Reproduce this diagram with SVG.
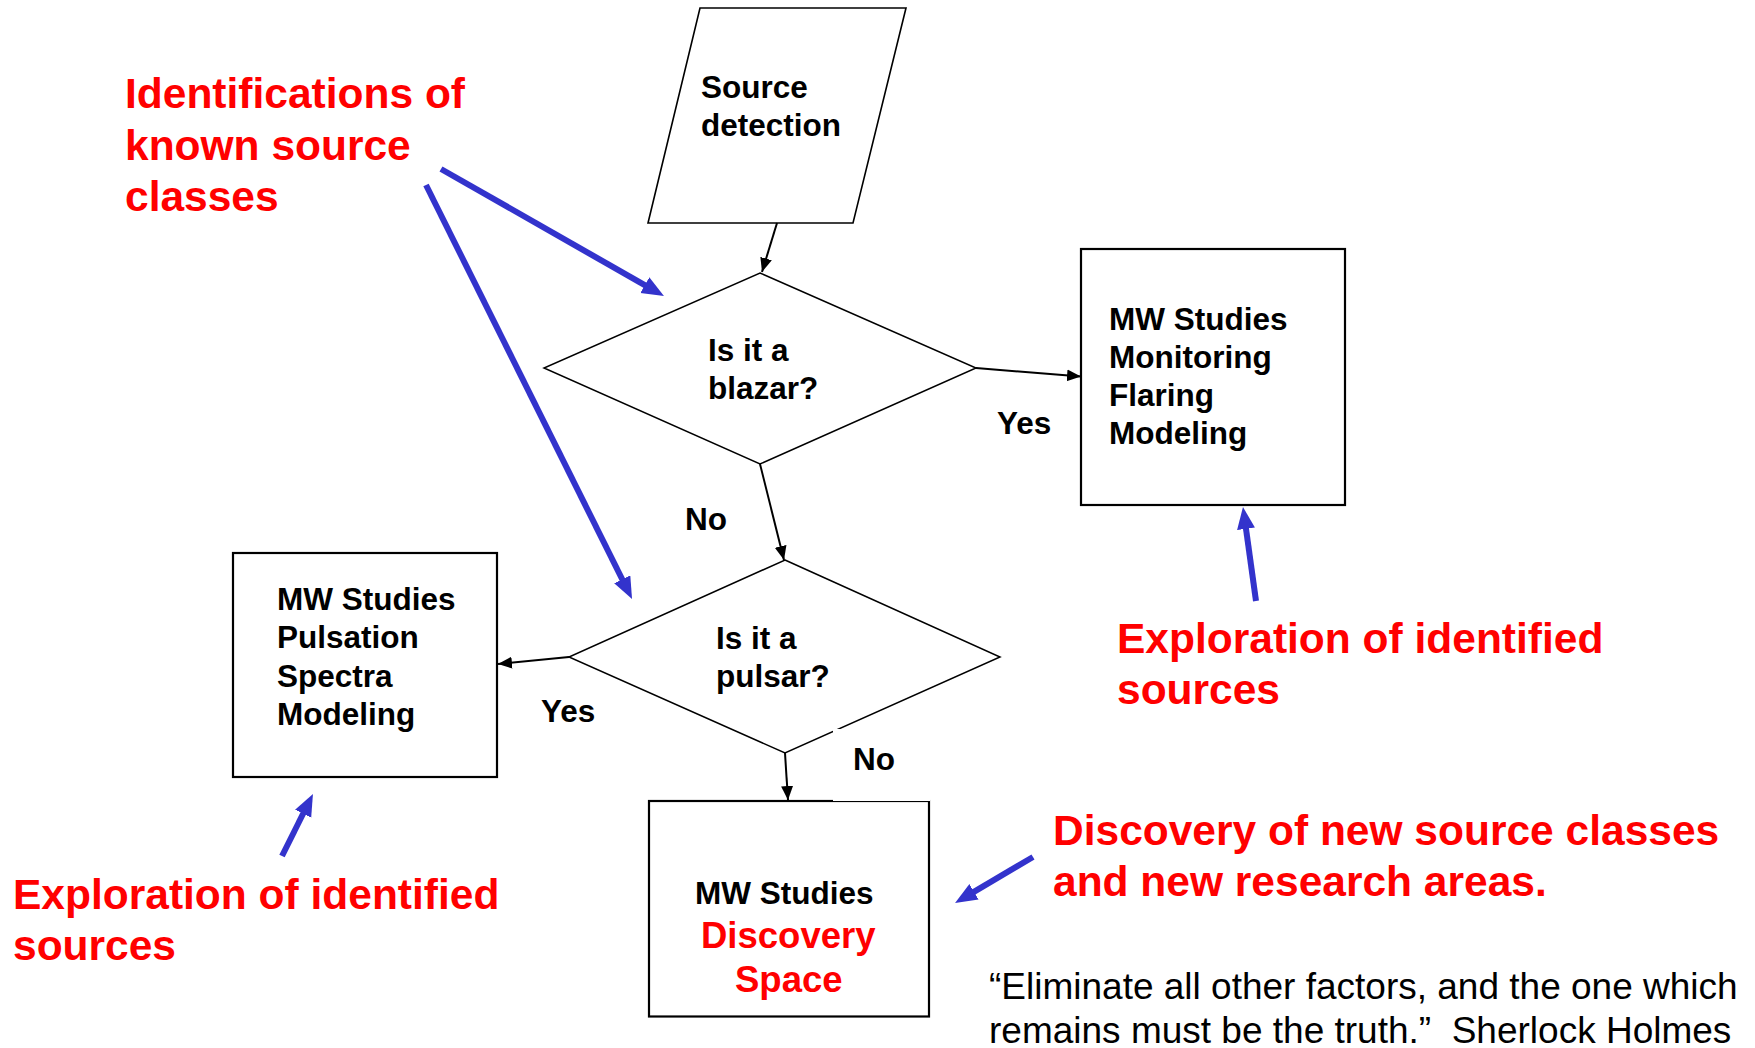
<svg xmlns="http://www.w3.org/2000/svg" width="1755" height="1048" viewBox="0 0 1755 1048">
<defs>
<style>
.shape{fill:#fff;stroke:#000;}
.box{stroke-width:2.2;}
.dia{stroke-width:1.5;}
.t{font-family:"Liberation Sans",Arial,sans-serif;font-weight:bold;fill:#000;}
.n{font-size:31.5px;}
.redt{fill:#ff0000;}
.red{font-family:"Liberation Sans",Arial,sans-serif;font-weight:bold;fill:#ff0000;font-size:42.5px;}
.quote{font-family:"Liberation Sans",Arial,sans-serif;fill:#000;font-size:37px;}
.conn{stroke:#000;stroke-width:2;fill:none;marker-end:url(#ah);}
.blue{stroke:#3333cc;stroke-width:6;fill:none;marker-end:url(#bh);}
</style>
<marker id="ah" markerUnits="userSpaceOnUse" markerWidth="16" markerHeight="14" refX="14" refY="6" orient="auto">
<path d="M0,0 L14,6 L0,12 z" fill="#000"/>
</marker>
<marker id="bh" markerUnits="userSpaceOnUse" markerWidth="24" markerHeight="20" refX="8" refY="9" orient="auto">
<path d="M0,0 L22,9 L0,18 z" fill="#3333cc"/>
</marker>
</defs>
<rect width="1755" height="1048" fill="#fff"/>

<g id="source-detection">
<polygon class="shape" stroke-width="1.6" points="700,8 906,8 853,223 648,223"/>
<text class="t n" x="701" y="98">Source</text>
<text class="t n" x="701" y="136">detection</text>
</g>

<g id="blazar-decision">
<polygon class="shape dia" points="760,273 976,368 760,464 544,368"/>
<text class="t n" x="708" y="361">Is it a</text>
<text class="t n" x="708" y="399">blazar?</text>
</g>

<g id="blazar-studies">
<rect class="shape box" x="1081" y="249" width="264" height="256"/>
<text class="t n" x="1109" y="330">MW Studies</text>
<text class="t n" x="1109" y="368">Monitoring</text>
<text class="t n" x="1109" y="406">Flaring</text>
<text class="t n" x="1109" y="444">Modeling</text>
</g>

<g id="pulsar-decision">
<polygon class="shape dia" points="785,560 1000,657 785,753 569,657"/>
<text class="t n" x="716" y="649">Is it a</text>
<text class="t n" x="716" y="687">pulsar?</text>
</g>

<g id="pulsar-studies">
<rect class="shape box" x="233" y="553" width="264" height="224"/>
<text class="t n" x="277" y="610">MW Studies</text>
<text class="t n" x="277" y="648">Pulsation</text>
<text class="t n" x="277" y="687">Spectra</text>
<text class="t n" x="277" y="725">Modeling</text>
</g>

<g id="discovery-space">
<rect class="shape box" x="649" y="801" width="280" height="215.5"/>
<text class="t n" x="695" y="904">MW Studies</text>
<text class="t redt" x="701" y="948" font-size="36.5">Discovery</text>
<text class="t redt" x="735" y="992" font-size="36.5">Space</text>
</g>

<g id="connectors">
<line class="conn" x1="777" y1="223" x2="762" y2="272"/>
<line class="conn" x1="976" y1="368" x2="1081" y2="376.5"/>
<line class="conn" x1="760" y1="464" x2="784" y2="560"/>
<line class="conn" x1="569" y1="657" x2="498" y2="664"/>
<line class="conn" x1="785" y1="753" x2="788" y2="800"/>
</g>

<g id="connector-labels">
<text class="t n" x="997" y="434">Yes</text>
<text class="t n" x="685" y="530">No</text>
<text class="t n" x="541" y="722">Yes</text>
<rect x="833" y="729" width="97" height="72" fill="#fff"/>
<text class="t n" x="853" y="770">No</text>
</g>

<g id="annotation-known">
<text class="red" x="125" y="108">Identifications of</text>
<text class="red" x="125" y="159.5">known source</text>
<text class="red" x="125" y="211">classes</text>
<line class="blue" x1="441" y1="169" x2="651.8" y2="289.1"/>
<line class="blue" x1="426" y1="185" x2="625.8" y2="586.5"/>
</g>

<g id="annotation-explore-right">
<text class="red" x="1117" y="653">Exploration of identified</text>
<text class="red" x="1117" y="704">sources</text>
<line class="blue" x1="1256" y1="601" x2="1244.9" y2="520.9"/>
</g>

<g id="annotation-explore-left">
<text class="red" x="13" y="909">Exploration of identified</text>
<text class="red" x="13" y="960">sources</text>
<line class="blue" x1="282" y1="856" x2="306.7" y2="806.5"/>
</g>

<g id="annotation-discovery">
<text class="red" x="1053" y="845">Discovery of new source classes</text>
<text class="red" x="1053" y="896">and new research areas.</text>
<line class="blue" x1="1033" y1="857" x2="967.1" y2="895.9"/>
</g>

<g id="quote">
<text class="quote" x="989" y="999">“Eliminate all other factors, and the one which</text>
<text class="quote" x="989" y="1043" xml:space="preserve">remains must be the truth.”  Sherlock Holmes</text>
</g>
</svg>
